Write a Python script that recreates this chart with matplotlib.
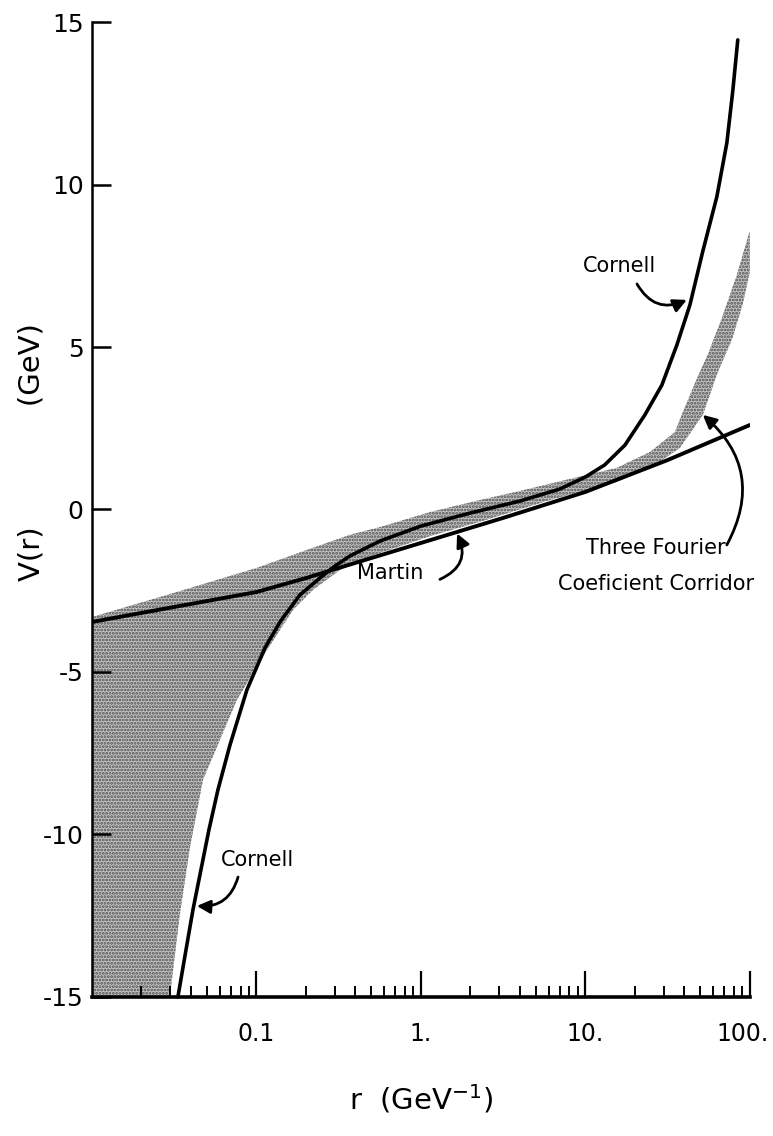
import numpy as np
import matplotlib
matplotlib.use('Agg')
from matplotlib import pyplot as plt
from matplotlib.ticker import FixedLocator, FixedFormatter, LogLocator, NullFormatter
from matplotlib.transforms import ScaledTranslation

# values (r in GeV^-1, V in GeV)
martin_r = [0.01, 0.0316, 0.1, 0.2, 0.316, 1.0, 3.16, 10, 31.6, 100]
martin_v = [-3.46, -3.0, -2.54, -2.11, -1.80, -1.03, -0.26, 0.54, 1.52, 2.6]

cornell_r = [0.0333, 0.0373, 0.0411, 0.0453, 0.0514, 0.0583, 0.069, 0.0875,
             0.1127, 0.139, 0.1836, 0.243, 0.300, 0.370, 0.564, 1.0, 1.99,
             4.0, 7.0, 10, 13.1, 17.4, 23.0, 29.2, 36.0, 43.2, 51.8, 63.0,
             72.5, 78.9, 84.5]
cornell_v = [-15, -13.55, -12.32, -11.25, -9.86, -8.63, -7.25, -5.55,
             -4.26, -3.46, -2.63, -2.11, -1.74, -1.43, -0.97, -0.51, -0.11,
             0.26, 0.63, 1.0, 1.37, 1.98, 2.91, 3.83, 5.06, 6.29, 7.95, 9.62,
             11.28, 12.91, 14.45]

corridor_hi_r = [0.01, 0.0343, 0.1, 0.22, 0.370, 0.564, 1.135, 2.28, 4.0,
                 8.05, 15.5, 24.7, 35.0, 40.8, 47.6, 55.6, 67.6, 83.4, 98.6,
                 100]
corridor_hi_v = [-3.31, -2.51, -1.8, -1.18, -0.78, -0.54, -0.08, 0.29, 0.57,
                 0.94, 1.28, 1.77, 2.38, 3.22, 4.02, 4.78, 5.89, 7.22, 8.48,
                 8.54]
corridor_lo_r = [0.01, 0.0298, 0.0306, 0.0343, 0.0395, 0.0473, 0.076, 0.116,
                 0.167, 0.22, 0.322, 0.564, 1.135, 2.28, 6.08, 15.5, 26.4,
                 37.5, 51.8, 63.9, 77.8, 90.6, 100]
corridor_lo_v = [-15, -15, -14.48, -12.42, -10.38, -8.32, -5.86, -4.32,
                 -3.09, -2.48, -1.86, -1.34, -0.82, -0.38, 0.29, 0.85, 1.37,
                 1.89, 2.91, 4.23, 5.22, 6.32, 7.31]

xticks = [0.1, 1, 10, 100]
xticklabels = ['0.1', '1.', '10.', '100.']
yticks = [-15, -10, -5, 0, 5, 10, 15]
yticklabels = ['-15', '-10', '-5', '0', '5', '10', '15']

fig = plt.figure(figsize=(7.73, 11.36), dpi=100)
ax = fig.add_axes([0.119, 0.1224, 0.851, 0.8582])

# shaded corridor
band_r = np.concatenate([corridor_hi_r, corridor_lo_r[::-1]])
band_v = np.concatenate([corridor_hi_v, corridor_lo_v[::-1]])
plt.rcParams['hatch.linewidth'] = 1.4
ax.fill(band_r, band_v, facecolor='#c4c4c4', edgecolor='#505050',
        hatch='.....', linewidth=0, zorder=1)

ax.plot(martin_r, martin_v, color='black', lw=2.8, zorder=3,
        solid_capstyle='round', solid_joinstyle='round')
ax.plot(cornell_r, cornell_v, color='black', lw=2.6, zorder=3,
        solid_capstyle='round', solid_joinstyle='round', clip_on=False)

ax.set_xscale('log')
ax.set_xlim(0.01, 100)
ax.set_ylim(-15, 15)

for s in ['top', 'right']:
    ax.spines[s].set_visible(False)
ax.spines['left'].set_linewidth(1.8)
ax.spines['bottom'].set_linewidth(2.6)

ax.xaxis.set_major_locator(FixedLocator(xticks))
ax.xaxis.set_major_formatter(FixedFormatter(xticklabels))
ax.xaxis.set_minor_locator(LogLocator(base=10, subs=np.arange(2, 10)))
ax.xaxis.set_minor_formatter(NullFormatter())
ax.yaxis.set_major_locator(FixedLocator(yticks))
ax.yaxis.set_major_formatter(FixedFormatter(yticklabels))

ax.tick_params(axis='x', which='major', direction='in', length=19, width=1.6,
               labelsize=17, pad=18)
ax.tick_params(axis='x', which='minor', direction='in', length=8, width=1.4)
ax.tick_params(axis='y', direction='in', length=14, width=1.8, labelsize=18,
               pad=6)

# nudge the last x label so it stays inside the picture
last = ax.xaxis.get_major_ticks()[-1].label1
last.set_transform(last.get_transform() +
                   ScaledTranslation(-5 / 72, 0, fig.dpi_scale_trans))

ax.set_xlabel('r  (GeV$^{-1}$)', fontsize=21)
ax.xaxis.set_label_coords(0.5, -0.088)
ax.set_ylabel('V(r)' + ' ' * 13 + '(GeV)', fontsize=21)
ax.yaxis.set_label_coords(-0.071, 0.559)

arrow = dict(arrowstyle='-|>', color='black', lw=2, mutation_scale=20,
             shrinkA=0, shrinkB=0)

ax.text(16.2, 7.49, 'Cornell', fontsize=15, ha='center', va='center')
ax.annotate('', xy=(41.4, 6.45), xytext=(20.6, 6.94),
            arrowprops=dict(arrow, connectionstyle='arc3,rad=0.45'))

ax.text(26.8, -1.74, 'Three Fourier\nCoeficient Corridor', fontsize=15,
        ha='center', va='center', linespacing=2.0)
ax.annotate('', xy=(51.8, 2.91), xytext=(72.5, -1.09),
            arrowprops=dict(arrow, connectionstyle='arc3,rad=0.4'))

ax.text(0.65, -1.95, 'Martin', fontsize=15, ha='center', va='center')
ax.annotate('', xy=(1.66, -0.74), xytext=(1.305, -2.15),
            arrowprops=dict(arrow, connectionstyle='arc3,rad=0.5'))

ax.text(0.102, -10.78, 'Cornell', fontsize=15, ha='center', va='center')
ax.annotate('', xy=(0.0434, -12.2), xytext=(0.0773, -11.31),
            arrowprops=dict(arrow, connectionstyle='arc3,rad=-0.4'))

fig.savefig('out.png', dpi=100)
